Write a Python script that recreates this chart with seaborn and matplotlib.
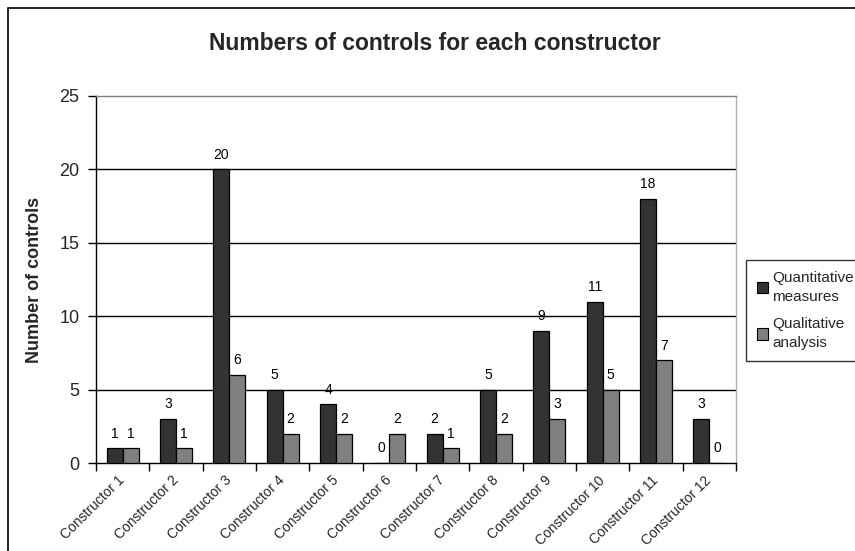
import matplotlib
matplotlib.use("Agg")
import matplotlib.pyplot as plt
import matplotlib.patches as mpatches
import matplotlib.transforms as mtransforms
import seaborn as sns
import pandas as pd
import numpy as np

categories = [f"Constructor {i}" for i in range(1, 13)]
quantitative = [1, 3, 20, 5, 4, 0, 2, 5, 9, 11, 18, 3]
qualitative = [1, 1, 6, 2, 2, 2, 1, 2, 3, 5, 7, 0]
series_names = ["Quantitative\nmeasures", "Qualitative\nanalysis"]
y_ticks = [0, 5, 10, 15, 20, 25]

df = pd.DataFrame({
    "Constructor": categories * 2,
    "Series": [series_names[0]] * 12 + [series_names[1]] * 12,
    "Controls": quantitative + qualitative,
})

sns.set_theme(style="white")
plt.rcParams["font.family"] = ["Liberation Sans", "DejaVu Sans"]

W, H = 855, 551
fig = plt.figure(figsize=(W / 100, H / 100), dpi=100)
ax = fig.add_axes([96 / W, 1 - 463 / H, (736 - 96) / W, (463 - 96) / H])

palette = {series_names[0]: "#333333", series_names[1]: "#808080"}
sns.barplot(data=df, x="Constructor", y="Controls", hue="Series",
            palette=palette, width=0.6, gap=0, saturation=1,
            edgecolor="black", linewidth=0.9, ax=ax, legend=False, zorder=3)

for container in ax.containers:
    ax.bar_label(container, fmt="%d", padding=5.5, fontsize=10, color="black")

ax.set_ylim(0, 25)
ax.set_xlim(-0.5, 11.5)
ax.set_yticks(y_ticks)
ax.set_yticklabels([str(t) for t in y_ticks], fontsize=13)
for t in y_ticks[1:-1]:
    ax.axhline(t, color="black", linewidth=1, zorder=0)

ax.set_xticks(range(12))
ax.set_xticklabels(categories, rotation=45, ha="right", va="center",
                   rotation_mode="anchor", fontsize=10)
shift = mtransforms.ScaledTranslation(-4 / 100, 0, fig.dpi_scale_trans)
for lbl in ax.get_xticklabels():
    lbl.set_transform(lbl.get_transform() + shift)
ax.set_xticks(np.arange(-0.5, 12, 1), minor=True)
ax.tick_params(axis="x", which="major", length=0, pad=11)
ax.tick_params(axis="x", which="minor", length=6, width=1, color="black", direction="out", bottom=True)
ax.tick_params(axis="y", which="major", length=6, width=1, color="black", direction="out", left=True, pad=6)

ax.set_xlabel("")
ax.set_ylabel("Number of controls", fontsize=13, fontweight="bold")
ax.yaxis.set_label_coords(-(96 - 43) / (736 - 96), 0.5)

for side in ["left", "bottom"]:
    ax.spines[side].set_color("black")
    ax.spines[side].set_linewidth(1)
ax.spines["top"].set_color("#808080")
ax.spines["top"].set_linewidth(1)
ax.spines["right"].set_color("#b0b0b0")
ax.spines["right"].set_linewidth(1)

fig.text(435 / W, 1 - 44 / H, "Numbers of controls for each constructor",
         ha="center", va="center", fontsize=16.5, fontweight="bold")

handles = [mpatches.Patch(facecolor=palette[s], edgecolor="black", linewidth=0.8, label=s)
           for s in series_names]
leg = fig.legend(handles=handles, loc="upper left",
                 bbox_to_anchor=(746 / W, 1 - 260 / H), fontsize=11,
                 frameon=True, fancybox=False, edgecolor="black",
                 handlelength=0.75, handleheight=0.75, handletextpad=0.25,
                 borderpad=0.7, labelspacing=0.9, borderaxespad=0)
for txt in leg.get_texts():
    txt.set_linespacing(1.45)
leg.get_frame().set_linewidth(1)

# outer chart frame
frame = mpatches.Rectangle((8 / W, -0.05), 1.0, 1 - 8 / H + 0.05,
                           transform=fig.transFigure, fill=False,
                           edgecolor="black", linewidth=1.2, clip_on=False)
fig.patches.append(frame)

fig.savefig("out.png", dpi=100)
